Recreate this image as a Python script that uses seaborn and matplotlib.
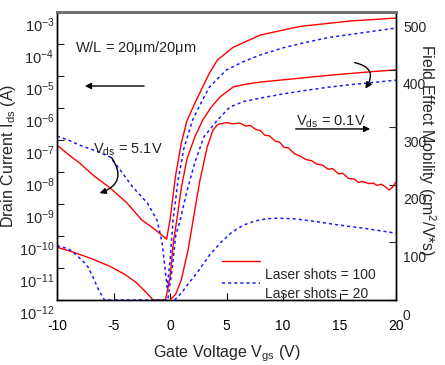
import numpy as np
import pandas as pd
import matplotlib
matplotlib.use('Agg')
import matplotlib.pyplot as plt
import matplotlib.transforms as mtrans
from matplotlib.lines import Line2D
import seaborn as sns

# ---------------- data ----------------
# Transfer curves, log10(Ids) vs Vgs
v_red_51 = [-10, -9, -8, -6.8, -5.3, -3.8, -2.5, -1.5, -0.8, -0.3, 0.0, 0.5, 1.0, 1.5, 2.2, 2.9,
            3.5, 4.2, 5.6, 8, 11.5, 16, 20]
lg_red_51 = [-7.16, -7.45, -7.72, -8.1, -8.5, -8.97, -9.5, -9.75, -9.95, -10.1, -9.5, -8.1, -7.1,
             -6.4, -5.85, -5.34, -4.9, -4.5, -4.1, -3.72, -3.45, -3.28, -3.19]

v_blue_51 = [-10, -9, -8, -6.5, -5.3, -4.4, -3.3, -2.0, -1.15, -0.7, -0.45, -0.25, 0.0, 0.27, 0.7,
             1.2, 2.0, 2.8, 3.5, 5, 6.5, 8, 10, 12, 14, 16, 18, 20]
lg_blue_51 = [-6.88, -7.0, -7.16, -7.35, -7.53, -7.94, -8.47, -8.97, -9.5, -10.2, -11.0, -11.6,
              -10.8, -9.5, -8.3, -7.3, -6.375, -5.8, -5.34, -4.81, -4.55, -4.34, -4.12, -3.95,
              -3.8, -3.7, -3.6, -3.5]

v_red_01 = [-10, -8.6, -7, -5.3, -4, -3, -2, -1.5, -0.4, 0.0, 0.3, 0.6, 1.0, 1.5, 2.2, 2.9, 3.6,
            4.4, 5.6, 6.8, 8, 10, 12, 14, 16, 18, 20]
lg_red_01 = [-10.35, -10.5, -10.7, -10.95, -11.2, -11.45, -11.8, -12, -12, -11.3, -10.2, -9.5,
             -8.5, -7.6, -6.9, -6.375, -6.0, -5.66, -5.34, -5.25, -5.19, -5.12, -5.05, -4.98,
             -4.92, -4.86, -4.81]

v_blue_01 = [-10, -9, -8.6, -7.8, -7.25, -6.8, -6.3, -5.8, -0.2, 0.2, 0.5, 0.9, 1.5, 2.2, 3.0,
             4.2, 5.3, 6.5, 8, 10, 12, 14, 16, 18, 20]
lg_blue_01 = [-10.3, -10.4, -10.5, -10.75, -10.97, -11.3, -11.7, -12, -12, -11.0, -10.0, -9.5,
              -8.6, -7.7, -6.9, -6.375, -5.97, -5.8, -5.69, -5.56, -5.45, -5.35, -5.27, -5.2,
              -5.13]

# Field effect mobility (cm^2/V*s) vs Vgs
v_mob_red = [0.0, 0.5, 1.0, 1.6, 2.1, 2.65, 3.3, 3.8, 4.25, 5.0, 5.5, 6.2, 6.7, 7.1, 7.6, 8.0,
             8.4, 8.8, 9.3, 9.7, 10.1, 10.5, 11.0, 11.5, 12.0, 12.5, 13.0, 13.5, 14.0, 14.4,
             14.9, 15.3, 15.8, 16.3, 16.7, 17.0, 17.6, 18.0, 18.3, 18.7, 19.1, 19.4, 19.7, 20.0]
mob_red = [0, 10, 35, 87, 145, 208, 266, 295, 305, 308, 306, 307, 302, 303, 296, 294, 286, 285,
           276, 274, 265, 264, 254, 250, 244, 242, 236, 234, 227, 228, 219, 220, 211, 210, 204,
           206, 202, 203, 199, 201, 196, 191, 196, 205]

v_mob_blue = [0.4, 1.0, 1.5, 2.5, 3.5, 4.5, 5.5, 6.5, 7.5, 8.5, 9.5, 11, 13, 15, 17, 19, 20]
mob_blue = [0, 12, 25, 50, 78, 100, 118, 130, 137, 141, 142, 141, 136, 130, 125, 119, 116]

y_ticks_log = [1e-3, 1e-4, 1e-5, 1e-6, 1e-7, 1e-8, 1e-9, 1e-10, 1e-11, 1e-12]
y_tick_labels = [r'$10^{-3}$', r'$10^{-4}$', r'$10^{-5}$', r'$10^{-6}$', r'$10^{-7}$',
                 r'$10^{-8}$', r'$10^{-9}$', r'$10^{-10}$', r'$10^{-11}$', r'$10^{-12}$']
x_ticks = [-10, -5, 0, 5, 10, 15, 20]
mob_ticks = [0, 100, 200, 300, 400, 500]
legend_labels = ['Laser shots = 100', 'Laser shots = 20']

# ---------------- style ----------------
sns.set_style('white')
plt.rcParams['font.family'] = ['Liberation Sans', 'DejaVu Sans']
plt.rcParams['mathtext.fontset'] = 'custom'
plt.rcParams['mathtext.rm'] = 'Liberation Sans'
plt.rcParams['mathtext.it'] = 'Liberation Sans:italic'
plt.rcParams['mathtext.default'] = 'regular'

RED = '#ff0000'
BLUE = '#1a1aff'
DOT = (0, (2, 2))

fig = plt.figure(figsize=(4.45, 3.65), dpi=100)
ax = fig.add_axes([57 / 445, 65 / 365, 339 / 445, 288 / 365])
ax2 = ax.twinx()


def tdf(v, lg):
    return pd.DataFrame({'V': v, 'I': np.power(10.0, lg)})


def mdf(v, m):
    return pd.DataFrame({'V': v, 'mu': m})


sns.lineplot(data=tdf(v_red_51, lg_red_51), x='V', y='I', ax=ax, color=RED, lw=1.0,
             sort=False, estimator=None)
sns.lineplot(data=tdf(v_red_01, lg_red_01), x='V', y='I', ax=ax, color=RED, lw=1.0,
             sort=False, estimator=None)
sns.lineplot(data=tdf(v_blue_51, lg_blue_51), x='V', y='I', ax=ax, color=BLUE, lw=1.1,
             linestyle=DOT, sort=False, estimator=None)
sns.lineplot(data=tdf(v_blue_01, lg_blue_01), x='V', y='I', ax=ax, color=BLUE, lw=1.1,
             linestyle=DOT, sort=False, estimator=None)

sns.lineplot(data=mdf(v_mob_red, mob_red), x='V', y='mu', ax=ax2, color=RED, lw=1.0,
             sort=False, estimator=None)
sns.lineplot(data=mdf(v_mob_blue, mob_blue), x='V', y='mu', ax=ax2, color=BLUE, lw=1.1,
             linestyle=DOT, sort=False, estimator=None)

# ---------------- axes ----------------
ax.set_yscale('log')
ax.set_xlim(-10, 20)
ax.set_ylim(1e-12, 1e-3)
ax2.set_ylim(0, 500)
ax.set_xticks(x_ticks)
ax.set_xticklabels([str(t) for t in x_ticks])
ax.set_yticks(y_ticks_log)
ax.set_yticklabels(y_tick_labels)
ax.yaxis.set_minor_locator(matplotlib.ticker.NullLocator())
ax2.set_yticks(mob_ticks)
ax2.set_yticklabels([str(t) for t in mob_ticks])

ax.tick_params(axis='x', direction='in', length=5, width=0.8, pad=14, labelsize=10,
               bottom=True, top=False, colors='black')
ax.tick_params(axis='y', direction='in', length=5, width=0.8, pad=2, labelsize=10.5,
               left=True, right=False)
ax2.tick_params(axis='y', direction='in', length=5, width=0.8, pad=5, labelsize=10,
                right=True, left=False)

for a in (ax, ax2):
    for s in ('left', 'right', 'bottom'):
        a.spines[s].set_color('black')
        a.spines[s].set_linewidth(1.0)
    a.spines['top'].set_color('#707070')
    a.spines['top'].set_linewidth(2.0)

ax.set_xlabel(r'Gate Voltage V$_{\rm gs}$ (V)', fontsize=11.5)
ax.xaxis.set_label_coords(0.50, -0.152)
ax.set_ylabel(r'Drain Current I$_{\rm ds}$ (A)', fontsize=11.5)
ax.yaxis.set_label_coords(-0.115, 0.5)
ax2.set_ylabel(r'Field Effect Mobility (cm$^{2}$/V*s)', fontsize=11.5, rotation=270,
               va='center')
ax2.yaxis.set_label_coords(1.09, 0.52)

# shift tick labels downward as in the reference
off_l = mtrans.ScaledTranslation(0, -0.12, fig.dpi_scale_trans)
off_r = mtrans.ScaledTranslation(0, -0.14, fig.dpi_scale_trans)
for lbl in ax.get_yticklabels():
    lbl.set_transform(lbl.get_transform() + off_l)
for lbl in ax2.get_yticklabels():
    lbl.set_transform(lbl.get_transform() + off_r)

# ---------------- annotations ----------------
ax.text(0.053, 0.875, r'W/L = 20$\mu$m/20$\mu$m', transform=ax.transAxes, fontsize=10.5,
        va='center', ha='left')
ax.annotate('', xy=(0.074, 0.743), xytext=(0.265, 0.743), xycoords='axes fraction',
            arrowprops=dict(arrowstyle='-|>', color='black', lw=1.0, mutation_scale=9))

ax.text(0.106, 0.52, r'V$_{\rm ds}$ = 5.1V', transform=ax.transAxes, fontsize=10.5,
        va='center', ha='left')
ax.annotate('', xy=(0.118, 0.368), xytext=(0.156, 0.503), xycoords='axes fraction',
            arrowprops=dict(arrowstyle='-|>', color='black', lw=1.0, mutation_scale=9,
                            connectionstyle='arc3,rad=-0.7'))

ax.text(0.808, 0.618, r'V$_{\rm ds}$ = 0.1V', transform=ax.transAxes, fontsize=10.5,
        va='center', ha='center')
ax.annotate('', xy=(0.932, 0.594), xytext=(0.696, 0.594), xycoords='axes fraction',
            arrowprops=dict(arrowstyle='-|>', color='black', lw=1.0, mutation_scale=9))
ax.annotate('', xy=(0.905, 0.726), xytext=(0.870, 0.826), xycoords='axes fraction',
            arrowprops=dict(arrowstyle='-|>', color='black', lw=1.0, mutation_scale=9,
                            connectionstyle='arc3,rad=-0.8'))

# ---------------- legend ----------------
handles = [Line2D([], [], color=RED, lw=1.0),
           Line2D([], [], color=BLUE, lw=1.1, linestyle=DOT)]
leg = ax.legend(handles, legend_labels, loc='upper left', bbox_to_anchor=(0.487, 0.155),
                frameon=False, fontsize=10, handlelength=2.7, handletextpad=0.4,
                labelspacing=0.55, borderpad=0.0, borderaxespad=0.0)
for t, dy in zip(leg.get_texts(), (-13, -10)):
    t.set_y(dy)

fig.savefig('out.png', dpi=100)
